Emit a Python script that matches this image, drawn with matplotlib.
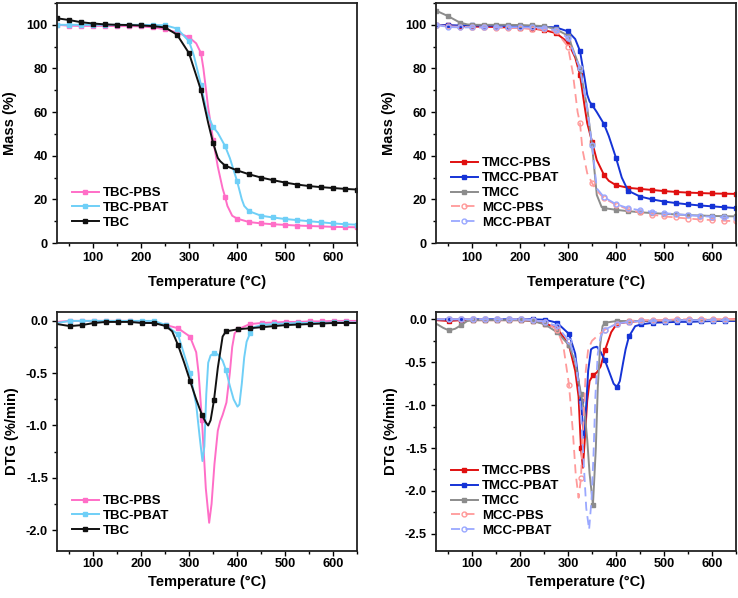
import numpy as np
import matplotlib
matplotlib.use("Agg")
import matplotlib.pyplot as plt
from matplotlib.ticker import MultipleLocator

plt.rcParams['font.family'] = ['Liberation Sans', 'DejaVu Sans']
plt.rcParams['font.weight'] = 'bold'

# ---------------- TGA, left panel ----------------
tga_T_tbcpbs = [25, 50, 75, 100, 125, 150, 175, 200, 225, 250, 275, 300, 315, 325, 330, 340, 345, 350,
                360, 370, 375, 380, 390, 400, 425, 450, 475, 500, 525, 550, 575, 600, 625, 650]
tga_tbcpbs = [100, 99.6, 99.5, 99.5, 99.5, 99.4, 99.4, 99.3, 98.8, 98.0, 96.5, 94.3, 91.5, 87, 80, 62, 55, 47.4,
              35, 25, 21.3, 17, 12.5, 11.2, 9.6, 9.0, 8.6, 8.3, 8.0, 7.8, 7.6, 7.4, 7.3, 7.2]

tga_T_tbcpbat = [25, 50, 75, 100, 125, 150, 175, 200, 225, 250, 275, 300, 310, 325, 337, 350, 360, 375,
                 385, 400, 410, 415, 425, 450, 475, 500, 525, 550, 575, 600, 625, 650]
tga_tbcpbat = [100, 100, 100, 100, 100, 100, 100, 100, 99.9, 99.8, 98.3, 92.5, 86, 72.5, 60, 53.2, 50.5, 44.5,
               39, 28.5, 20, 17, 14.6, 12.5, 11.7, 11.0, 10.5, 10.0, 9.5, 9.0, 8.6, 8.4]

tga_T_tbc = [25, 50, 75, 100, 125, 150, 175, 200, 225, 250, 275, 300, 325, 340, 350, 360, 365, 375,
             400, 425, 450, 475, 500, 525, 550, 575, 600, 625, 650]
tga_tbc = [103, 102.2, 101.2, 100.6, 100.2, 100, 99.9, 99.7, 99.4, 98.8, 95.5, 87, 70, 55, 46, 39, 37.5, 35.5,
           33.3, 31.5, 30.0, 28.8, 27.7, 26.8, 26.1, 25.6, 25.2, 24.8, 24.5]

# ---------------- TGA, right panel ----------------
tga_T_tmccpbs = [25, 50, 75, 100, 125, 150, 175, 200, 225, 250, 275, 300, 315, 325, 335, 340, 350, 360,
                 375, 385, 400, 425, 450, 475, 500, 525, 550, 575, 600, 625, 650]
tga_tmccpbs = [100, 99.7, 99.4, 99.2, 99.1, 99.0, 98.8, 98.6, 98.3, 97.6, 96.2, 92, 85, 77, 62, 55, 46.5, 38,
               31.2, 28.5, 26.5, 25.3, 24.8, 24.3, 23.8, 23.4, 23.1, 22.9, 22.7, 22.6, 22.5]

tga_T_tmccpbat = [25, 50, 75, 100, 125, 150, 175, 200, 225, 250, 275, 300, 315, 325, 335, 340, 345, 350,
                  360, 375, 385, 400, 412, 425, 450, 475, 500, 525, 550, 575, 600, 625, 650]
tga_tmccpbat = [100, 99.8, 99.7, 99.7, 99.6, 99.6, 99.5, 99.5, 99.4, 99.1, 98.8, 97, 93.5, 88, 75, 68, 64.8, 63.3,
                60, 54.5, 49, 39, 30, 24, 21.3, 20.0, 19.0, 18.3, 17.7, 17.2, 16.8, 16.4, 16.0]

tga_T_tmcc = [25, 50, 75, 90, 100, 125, 150, 175, 200, 225, 250, 275, 300, 325, 340, 350, 360, 370, 375,
              400, 425, 450, 475, 500, 525, 550, 575, 600, 625, 650]
tga_tmcc = [106.5, 104, 101, 100.2, 100, 100, 100, 100, 99.9, 99.7, 99.4, 98, 95, 80, 62, 45, 22, 16.5, 16.0,
            15.2, 14.6, 14.1, 13.7, 13.4, 13.1, 12.8, 12.6, 12.4, 12.3, 12.2]

tga_T_mccpbs = [25, 50, 75, 100, 125, 150, 175, 200, 225, 250, 275, 300, 310, 320, 325, 330, 340, 350,
                360, 375, 400, 425, 450, 475, 500, 525, 550, 575, 600, 625, 650]
tga_mccpbs = [100, 99.3, 99.1, 98.9, 98.8, 98.7, 98.6, 98.5, 98.3, 98.0, 97, 90, 78, 60, 55, 43, 32, 27.5,
              24, 20.5, 17.5, 15.5, 14.0, 13.0, 12.2, 11.7, 11.2, 10.8, 10.5, 10.2, 10.0]

tga_T_mccpbat = [25, 50, 75, 100, 125, 150, 175, 200, 225, 250, 275, 300, 325, 340, 350, 360, 375,
                 400, 425, 450, 475, 500, 525, 550, 575, 600, 625, 650]
tga_mccpbat = [100, 99.0, 98.8, 98.8, 98.8, 98.9, 98.9, 98.9, 98.8, 98.5, 97.5, 94, 80, 62, 45, 25, 21,
               17.8, 16.0, 15.0, 14.3, 13.7, 13.2, 12.8, 12.4, 12.0, 11.7, 11.5]

# ---------------- DTG, left panel ----------------
dtg_T_tbcpbs = [25, 52, 77, 102, 127, 152, 177, 202, 227, 252, 277, 302, 315, 320, 327, 335, 342, 347, 353,
                360, 365, 370, 378, 385, 390, 395, 402, 427, 452, 477, 502, 527, 552, 577, 602, 627, 650]
dtg_tbcpbs = [-0.01, 0, 0, 0, 0, 0, 0, -0.01, -0.02, -0.04, -0.07, -0.15, -0.3, -0.5, -0.95, -1.6, -1.93, -1.75, -1.37,
              -1.05, -0.96, -0.9, -0.78, -0.5, -0.25, -0.12, -0.08, -0.03, -0.02, -0.015, -0.01, -0.01, -0.005, -0.005, 0, 0, 0]

dtg_T_tbcpbat = [25, 52, 77, 102, 127, 152, 177, 202, 227, 252, 277, 302, 315, 322, 328, 332, 336, 340, 345,
                 352, 360, 370, 377, 385, 393, 401, 405, 410, 415, 420, 427, 435, 452, 477, 502, 527, 552, 577,
                 602, 627, 650]
dtg_tbcpbat = [-0.02, 0, 0, 0, 0, 0, 0, 0, 0, -0.04, -0.13, -0.5, -0.8, -1.1, -1.34, -1.2, -0.7, -0.4, -0.33,
               -0.31, -0.32, -0.38, -0.47, -0.62, -0.75, -0.82, -0.8, -0.6, -0.35, -0.2, -0.12, -0.06, -0.04, -0.03,
               -0.025, -0.02, -0.02, -0.02, -0.015, -0.015, -0.015]

dtg_T_tbc = [25, 52, 77, 102, 127, 152, 177, 202, 227, 252, 265, 277, 290, 302, 315, 327, 335, 340, 345,
             352, 360, 370, 377, 402, 427, 452, 477, 502, 527, 552, 577, 602, 627, 650]
dtg_tbc = [-0.03, -0.05, -0.04, -0.02, -0.01, -0.01, -0.01, -0.02, -0.02, -0.05, -0.1, -0.23, -0.4, -0.57, -0.75,
           -0.9, -0.97, -1.0, -0.95, -0.76, -0.45, -0.15, -0.1, -0.08, -0.07, -0.06, -0.05, -0.04, -0.035, -0.03,
           -0.025, -0.02, -0.02, -0.02]

# ---------------- DTG, right panel ----------------
dtg_T_tmccpbs = [25, 52, 77, 102, 127, 152, 177, 202, 227, 252, 277, 302, 315, 322, 327, 331, 335, 340, 345,
                 352, 360, 368, 377, 390, 402, 427, 452, 477, 502, 527, 552, 577, 602, 627, 650]
dtg_tmccpbs = [-0.01, -0.02, -0.01, -0.01, -0.01, -0.01, -0.01, -0.01, -0.02, -0.05, -0.1, -0.3, -0.6, -0.9, -1.5,
               -1.73, -1.4, -0.95, -0.72, -0.65, -0.62, -0.55, -0.36, -0.15, -0.05, -0.03, -0.02, -0.02, -0.015,
               -0.01, -0.01, -0.01, -0.005, -0.005, 0]

dtg_T_tmccpbat = [25, 52, 77, 102, 127, 152, 177, 202, 227, 252, 277, 302, 315, 327, 333, 338, 342, 348, 353,
                  360, 368, 377, 385, 395, 402, 408, 415, 420, 427, 440, 452, 477, 502, 527, 552, 577, 602, 627, 650]
dtg_tmccpbat = [0, 0, 0, 0, 0, 0, 0, 0, 0, -0.005, -0.04, -0.17, -0.4, -0.95, -1.38, -1.0, -0.6, -0.35, -0.33,
                -0.32, -0.38, -0.48, -0.6, -0.75, -0.79, -0.72, -0.5, -0.35, -0.2, -0.08, -0.06, -0.04, -0.035,
                -0.03, -0.03, -0.025, -0.02, -0.02, -0.02]

dtg_T_tmcc = [25, 40, 52, 65, 77, 90, 102, 127, 152, 177, 202, 227, 252, 277, 302, 315, 327, 335, 340, 345,
              352, 358, 362, 367, 372, 377, 402, 427, 452, 477, 502, 527, 552, 577, 602, 627, 650]
dtg_tmcc = [-0.05, -0.1, -0.13, -0.11, -0.07, -0.02, -0.01, -0.01, -0.01, -0.01, -0.01, -0.02, -0.06, -0.15, -0.3,
            -0.5, -0.87, -1.1, -1.4, -1.8, -2.16, -1.5, -0.8, -0.3, -0.08, -0.04, -0.02, -0.02, -0.02, -0.015,
            -0.015, -0.01, -0.01, -0.01, -0.01, -0.01, -0.01]

dtg_T_mccpbs = [25, 52, 77, 102, 127, 152, 177, 202, 227, 252, 277, 290, 302, 310, 316, 322, 327, 332, 337,
                342, 350, 360, 377, 390, 402, 427, 452, 477, 502, 527, 552, 577, 602, 627, 650]
dtg_mccpbs = [0, 0, 0, 0, 0, 0, 0, 0, -0.01, -0.03, -0.12, -0.3, -0.76, -1.3, -1.8, -2.08, -1.85, -1.2, -0.6,
              -0.35, -0.25, -0.2, -0.12, -0.08, -0.06, -0.02, -0.01, -0.01, -0.01, 0, 0, 0, 0, 0, 0]

dtg_T_mccpbat = [25, 52, 77, 102, 127, 152, 177, 202, 227, 252, 277, 302, 315, 325, 332, 338, 344, 349, 353,
                 357, 362, 368, 377, 402, 427, 452, 477, 502, 527, 552, 577, 602, 627, 650]
dtg_mccpbat = [0, 0, 0, 0, 0, 0, 0, 0, -0.01, -0.03, -0.08, -0.25, -0.45, -0.9, -1.6, -2.2, -2.45, -2.1, -1.6,
               -0.9, -0.4, -0.2, -0.12, -0.05, -0.03, -0.02, -0.02, -0.015, -0.01, -0.01, -0.01, -0.01, -0.01, -0.01]

labels_left = ['TBC-PBS', 'TBC-PBAT', 'TBC']
labels_right = ['TMCC-PBS', 'TMCC-PBAT', 'TMCC', 'MCC-PBS', 'MCC-PBAT']
xticks = [100, 200, 300, 400, 500, 600]

c_pink = '#ff6ec7'
c_lblue = '#6fcff7'
c_black = '#111111'
c_red = '#e01010'
c_blue = '#1533d6'
c_grey = '#8c8c8c'
c_dred = '#ff9a9a'
c_dblue = '#9aa8ff'

fig = plt.figure(figsize=(7.38, 5.98), dpi=100)
W, H = 738, 598


def make_ax(x0, y0, x1, y1):
    return fig.add_axes([x0 / W, 1 - y1 / H, (x1 - x0) / W, (y1 - y0) / H])


ax_tl = make_ax(57, 3, 357, 243)
ax_tr = make_ax(436, 3, 736, 243)
ax_bl = make_ax(57, 312, 357, 551)
ax_br = make_ax(436, 312, 736, 551)


def marks(T, step_offset):
    return [i for i, t in enumerate(T) if (t - step_offset) % 25 == 0]


def solid(ax, T, y, color, label, off):
    ax.plot(T, y, color=color, lw=1.4, marker='s', ms=3.0, markevery=marks(T, off), label=label)


def dashed(ax, T, y, color, label, off):
    ax.plot(T, y, color=color, lw=1.3, ls=(0, (5, 3)), marker='o', ms=3.5, mfc='none', mec=color,
            markevery=marks(T, off), label=label)


solid(ax_tl, tga_T_tbcpbs, tga_tbcpbs, c_pink, labels_left[0], 0)
solid(ax_tl, tga_T_tbcpbat, tga_tbcpbat, c_lblue, labels_left[1], 0)
solid(ax_tl, tga_T_tbc, tga_tbc, c_black, labels_left[2], 0)

solid(ax_tr, tga_T_tmccpbs, tga_tmccpbs, c_red, labels_right[0], 0)
solid(ax_tr, tga_T_tmccpbat, tga_tmccpbat, c_blue, labels_right[1], 0)
solid(ax_tr, tga_T_tmcc, tga_tmcc, c_grey, labels_right[2], 0)
dashed(ax_tr, tga_T_mccpbs, tga_mccpbs, c_dred, labels_right[3], 0)
dashed(ax_tr, tga_T_mccpbat, tga_mccpbat, c_dblue, labels_right[4], 0)

solid(ax_bl, dtg_T_tbcpbs, dtg_tbcpbs, c_pink, labels_left[0], 2)
solid(ax_bl, dtg_T_tbcpbat, dtg_tbcpbat, c_lblue, labels_left[1], 2)
solid(ax_bl, dtg_T_tbc, dtg_tbc, c_black, labels_left[2], 2)

solid(ax_br, dtg_T_tmccpbs, dtg_tmccpbs, c_red, labels_right[0], 2)
solid(ax_br, dtg_T_tmccpbat, dtg_tmccpbat, c_blue, labels_right[1], 2)
solid(ax_br, dtg_T_tmcc, dtg_tmcc, c_grey, labels_right[2], 2)
dashed(ax_br, dtg_T_mccpbs, dtg_mccpbs, c_dred, labels_right[3], 2)
dashed(ax_br, dtg_T_mccpbat, dtg_mccpbat, c_dblue, labels_right[4], 2)

for ax in (ax_tl, ax_tr, ax_bl, ax_br):
    ax.set_xlim(25, 650)
    ax.set_xticks(xticks)
    ax.xaxis.set_minor_locator(MultipleLocator(50))
    ax.tick_params(which='both', direction='out', top=False, right=False, labelsize=9.2, width=1.0, pad=3)
    ax.tick_params(which='major', length=3.5)
    ax.tick_params(which='minor', length=2)
    for s in ax.spines.values():
        s.set_linewidth(1.3)
        s.set_color('#222222')
    for lab in ax.get_xticklabels():
        lab.set_fontweight('bold')

for ax in (ax_tl, ax_tr):
    ax.set_xlabel('Temperature (°C)', fontsize=10.5, fontweight='bold', labelpad=8)
    ax.set_ylim(0, 110)
    ax.set_yticks([0, 20, 40, 60, 80, 100])
    ax.yaxis.set_minor_locator(MultipleLocator(10))
    ax.set_ylabel('Mass (%)', fontsize=10.5, fontweight='bold', labelpad=7)
    for lab in ax.get_yticklabels():
        lab.set_fontweight('bold')

ax_bl.set_ylim(-2.2, 0.085)
ax_bl.set_yticks([0.0, -0.5, -1.0, -1.5, -2.0])
ax_br.set_ylim(-2.7, 0.085)
ax_br.set_yticks([0.0, -0.5, -1.0, -1.5, -2.0, -2.5])
for ax in (ax_bl, ax_br):
    ax.tick_params(axis='x', which='major', pad=1.5)
    ax.set_xlabel('Temperature (°C)', fontsize=10.5, fontweight='bold', labelpad=3.5)
    ax.yaxis.set_minor_locator(MultipleLocator(0.25))
    ax.set_yticklabels([f'{v:.1f}' for v in ax.get_yticks()], fontweight='bold')
    ax.set_ylabel('DTG (%/min)', fontsize=10.5, fontweight='bold', labelpad=5)

for ax in (ax_tl, ax_tr, ax_bl, ax_br):
    ax.legend(loc='lower left', bbox_to_anchor=(0.02, 0.02), frameon=False,
              prop={'weight': 'bold', 'size': 9.5}, handlelength=2.0, labelspacing=0.2,
              handletextpad=0.35, borderaxespad=0.3)

fig.savefig('out.png', dpi=100)
